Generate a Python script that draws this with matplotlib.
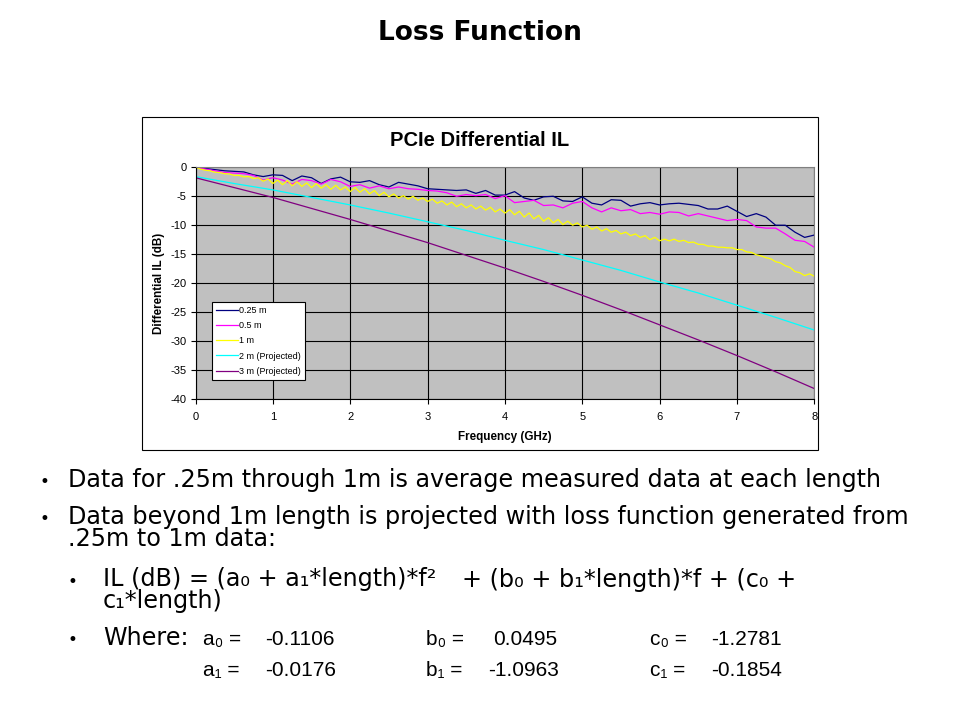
import matplotlib
matplotlib.use('Agg')
import matplotlib.pyplot as plt
from matplotlib.patches import Rectangle
import numpy as np

plt.rcParams['axes.unicode_minus'] = False

freq_1m = np.linspace(0, 8, 129)
freq_meas = np.linspace(0, 8, 65)
freq_proj = np.linspace(0, 8, 17)

# measured insertion loss (dB)
il_025m = [0.0, -0.2, -0.4, -0.6, -0.7, -0.8, -1.3, -1.6, -1.3, -1.4, -2.3, -1.5, -1.8,
           -2.8, -2.0, -1.7, -2.5, -2.6, -2.3, -3.0, -3.4, -2.6, -2.9, -3.2, -3.7, -3.8,
           -3.9, -4.0, -3.9, -4.5, -4.0, -4.8, -4.8, -4.2, -5.3, -5.7, -5.1, -5.0, -5.8,
           -5.9, -5.1, -6.2, -6.5, -5.6, -5.7, -6.7, -6.3, -6.1, -6.5, -6.3, -6.2, -6.4,
           -6.6, -7.2, -7.2, -6.7, -7.6, -8.5, -8.0, -8.6, -10.0, -10.0, -11.2, -12.1, -11.7]
il_05m = [0.0, -0.3, -0.6, -0.9, -1.0, -1.1, -1.4, -2.2, -1.8, -2.2, -2.9, -2.1, -2.3,
          -2.9, -2.1, -2.5, -3.3, -3.0, -3.6, -3.2, -3.7, -3.4, -3.7, -3.8, -4.0, -4.1,
          -4.4, -5.0, -4.7, -4.9, -4.7, -5.4, -4.9, -6.1, -5.9, -5.7, -6.6, -6.5, -7.0,
          -6.2, -5.9, -7.0, -7.7, -7.0, -7.5, -7.3, -8.0, -7.8, -8.1, -7.7, -7.8, -8.4,
          -8.0, -8.4, -8.8, -9.2, -9.0, -9.2, -10.3, -10.5, -10.5, -11.5, -12.6, -12.8, -13.8]
il_1m = [0.0, -0.3, -0.5, -0.6, -0.85, -0.9, -1.1, -1.15, -1.4, -1.4, -1.65, -1.6, -1.95,
         -1.8, -2.4, -2.0, -2.8, -2.2, -3.0, -2.3, -3.2, -2.5, -3.3, -2.7, -3.5, -2.8,
         -3.6, -3.0, -3.8, -3.1, -3.9, -3.4, -4.2, -3.5, -4.3, -3.7, -4.6, -4.0, -4.9,
         -4.3, -5.1, -4.6, -5.3, -4.9, -5.5, -5.0, -5.7, -5.3, -5.9, -5.5, -6.2, -5.8,
         -6.5, -6.0, -6.8, -6.3, -7.0, -6.5, -7.2, -6.7, -7.4, -6.9, -7.7, -7.2, -7.9,
         -7.3, -8.2, -7.6, -8.6, -7.9, -8.9, -8.3, -9.3, -8.7, -9.6, -9.0, -9.9, -9.3,
         -10.0, -9.6, -10.3, -10.0, -10.7, -10.3, -11.0, -10.6, -11.2, -10.9, -11.5, -11.2,
         -11.8, -11.5, -12.1, -11.8, -12.5, -12.1, -12.7, -12.4, -12.7, -12.4, -12.8, -12.6,
         -13.0, -12.9, -13.3, -13.3, -13.6, -13.6, -13.8, -13.8, -13.9, -13.9, -14.2, -14.2,
         -14.6, -14.7, -15.1, -15.3, -15.6, -15.8, -16.3, -16.5, -17.0, -17.3, -18.0, -18.2,
         -18.7, -18.4, -18.8]
# projected insertion loss (dB)
il_2m = [-1.6, -2.8, -3.9, -5.2, -6.5, -7.9, -9.4, -10.9, -12.6, -14.2, -16.0, -17.8,
         -19.8, -21.7, -23.8, -25.9, -28.1]
il_3m = [-1.8, -3.5, -5.2, -7.1, -9.0, -11.0, -13.0, -15.2, -17.4, -19.7, -22.1, -24.6,
         -27.2, -29.8, -32.5, -35.3, -38.2]

labels = ['0.25 m', '0.5 m', '1 m', '2 m (Projected)', '3 m (Projected)']
colors = ['#000080', '#FF00FF', '#FFFF00', '#00FFFF', '#800080']

# loss function coefficients
coef_a = ['a₀ =', 'a₁ =']
coef_a_val = ['-0.1106', '-0.0176']
coef_b = ['b₀ =', 'b₁ =']
coef_b_val = ['0.0495', '-1.0963']
coef_c = ['c₀ =', 'c₁ =']
coef_c_val = ['-1.2781', '-0.1854']

W, H = 960, 720
fig = plt.figure(figsize=(9.6, 7.2), dpi=100)
fig.patch.set_facecolor('white')

def px(x, y):
    return x / W, 1 - y / H

# chart frame
fig.patches.append(Rectangle(px(142, 450), (818 - 142) / W, (450 - 116.5) / H,
                             transform=fig.transFigure, fill=False,
                             edgecolor='black', lw=0.8))

x0, x1 = 195.5, 814.3
y0, y1 = 167.3, 399.0
ax = fig.add_axes([x0 / W, 1 - y1 / H, (x1 - x0) / W, (y1 - y0) / H])
ax.set_facecolor('#C0C0C0')

series = [(freq_meas, il_025m), (freq_meas, il_05m), (freq_1m, il_1m),
          (freq_proj, il_2m), (freq_proj, il_3m)]
for (f, v), lab, c in zip(series, labels, colors):
    ax.plot(f, v, color=c, lw=0.9, label=lab)

ax.set_xlim(0, 8)
ax.set_ylim(-40, 0)
ax.set_xticks(range(0, 9))
ax.set_yticks(range(-40, 1, 5))
ax.grid(True, color='black', lw=0.8)
ax.set_axisbelow(True)
for s in ['top', 'right']:
    ax.spines[s].set_color('#808080')
    ax.spines[s].set_linewidth(0.8)
for s in ['left', 'bottom']:
    ax.spines[s].set_color('black')
    ax.spines[s].set_linewidth(0.8)
ax.tick_params(direction='out', length=3.5, width=0.8, labelsize=8)
ax.tick_params(axis='x', pad=6)
ax.tick_params(axis='y', pad=3)
for t in ax.get_xticklabels() + ax.get_yticklabels():
    t.set_family('Liberation Sans')

ax.set_xlabel('Frequency (GHz)', fontsize=8.4, fontweight='bold', family='Liberation Sans')
ax.set_ylabel('Differential IL (dB)', fontsize=8.4, fontweight='bold', family='Liberation Sans')
ax.xaxis.set_label_coords(0.5, -0.14)
ax.yaxis.set_label_coords(-0.05, 0.5)

leg = ax.legend(loc='lower left', bbox_to_anchor=(0.027, 0.082), borderaxespad=0,
                fancybox=False, framealpha=1, edgecolor='black',
                prop={'family': 'Liberation Sans', 'size': 6.5},
                handlelength=2.4, handletextpad=0.1, labelspacing=0.7,
                borderpad=0.45)
leg.get_frame().set_linewidth(0.8)

fig.text(*px(480, 141), 'PCIe Differential IL', ha='center', va='center',
         fontsize=14.5, fontweight='bold', family='Liberation Sans')
fig.text(*px(480, 33), 'Loss Function', ha='center', va='center',
         fontsize=19, fontweight='bold', family='DejaVu Sans')

# slide text (multi-line texts are anchored on their last baseline)
body = dict(fontsize=17.2, family='DejaVu Sans', va='baseline', ha='left',
            linespacing=0.9)
for by in [487, 524]:
    fig.text(*px(40, by), '•', fontsize=12, family='DejaVu Sans', va='baseline')
for by in [587, 645]:
    fig.text(*px(68, by), '•', fontsize=12, family='DejaVu Sans', va='baseline')
fig.text(*px(68, 487), 'Data for .25m through 1m is average measured data at each length', **body)
fig.text(*px(68, 546), 'Data beyond 1m length is projected with loss function generated from\n'
         '.25m to 1m data:', **body)
fig.text(*px(103, 608), 'IL (dB) = (a₀ + a₁*length)*f²\nc₁*length)', **body)
fig.text(*px(462, 587), '+ (b₀ + b₁*length)*f + (c₀ +', **body)
fig.text(*px(103, 645), 'Where:', **body)

coef = dict(fontsize=15, family='Liberation Sans', va='baseline', ha='left')
rows = [645, 676]
for i, by in enumerate(rows):
    fig.text(*px(203, by), coef_a[i], **coef)
    fig.text(*px(265, by), coef_a_val[i], **coef)
    fig.text(*px(426, by), coef_b[i], **coef)
    fig.text(*px(493 if i == 0 else 488, by), coef_b_val[i], **coef)
    fig.text(*px(650, by), coef_c[i], **coef)
    fig.text(*px(711, by), coef_c_val[i], **coef)

fig.savefig('out.png', dpi=100)
